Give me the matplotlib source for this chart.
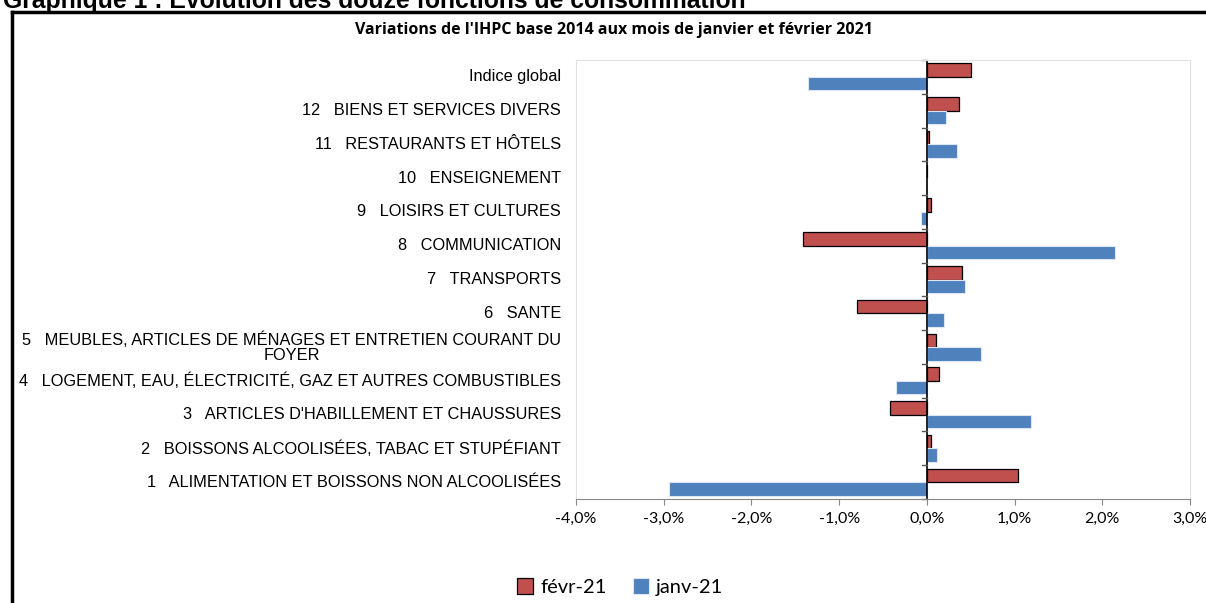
import matplotlib.pyplot as plt
import numpy as np
from matplotlib.ticker import FuncFormatter
from matplotlib.lines import Line2D

# Données (variations en %), de bas en haut
categories = [
    "1   ALIMENTATION ET BOISSONS NON ALCOOLISÉES",
    "2   BOISSONS ALCOOLISÉES, TABAC ET STUPÉFIANT",
    "3   ARTICLES D'HABILLEMENT ET CHAUSSURES",
    "4   LOGEMENT, EAU, ÉLECTRICITÉ, GAZ ET AUTRES COMBUSTIBLES",
    "5   MEUBLES, ARTICLES DE MÉNAGES ET ENTRETIEN COURANT DU\nFOYER",
    "6   SANTE",
    "7   TRANSPORTS",
    "8   COMMUNICATION",
    "9   LOISIRS ET CULTURES",
    "10   ENSEIGNEMENT",
    "11   RESTAURANTS ET HÔTELS",
    "12   BIENS ET SERVICES DIVERS",
    "Indice global",
]
fevr21 = [1.04, 0.05, -0.42, 0.14, 0.10, -0.80, 0.40, -1.41, 0.05, 0.00, 0.02, 0.37, 0.50]
janv21 = [-2.94, 0.11, 1.19, -0.35, 0.62, 0.19, 0.43, 2.14, -0.07, -0.01, 0.34, 0.22, -1.36]

col_fevr = "#C0504D"
col_janv = "#4F81BD"

fig = plt.figure(figsize=(12.06, 6.03), dpi=100)
ax = fig.add_axes([576 / 1206, 1 - 499 / 603, (1190 - 576) / 1206, (499 - 60) / 603])

y = np.arange(len(categories))
h = 0.4
ax.barh(y + h / 2, fevr21, height=h, color=col_fevr, edgecolor="black", linewidth=0.9, label="févr-21")
ax.barh(y - h / 2, janv21, height=h, color=col_janv, edgecolor="#dce6f2", linewidth=0.8, label="janv-21")

ax.set_xlim(-4, 3)
ax.set_ylim(-0.5, len(categories) - 0.5)
ax.set_xticks(np.arange(-4, 4, 1))
ax.xaxis.set_major_formatter(FuncFormatter(lambda v, p: f"{v:.1f}%".replace(".", ",")))
for lab in ax.get_xticklabels():
    lab.set_fontfamily("Lato")
    lab.set_fontsize(11.5)
ax.tick_params(axis="x", direction="out", length=4, color="#888888", pad=5)

# axe des catégories sur 0
ax.set_yticks([])
ax.axvline(0, color="black", linewidth=1.2)
for b in np.arange(-0.5, len(categories), 1):
    ax.plot([-0.05, 0], [b, b], color="#555555", linewidth=1, clip_on=False)

for i, c in enumerate(categories):
    ax.text(-4 - 15 / 87.75, i, c, ha="right", va="center", multialignment="center",
            fontsize=11.8, fontfamily="Liberation Sans", linespacing=1.0)

for s in ["top", "right", "left"]:
    ax.spines[s].set_color("#e0e0e0")
ax.spines["bottom"].set_color("#888888")

# titres
fig.text(614 / 1206, 1 - 30 / 603, "Variations de l'IHPC base 2014 aux mois de janvier et février 2021",
         ha="center", va="center", fontsize=11.5, fontweight="bold", fontfamily="Open Sans")
fig.text(3 / 1206, 1 + 1 / 603, "Graphique 1 : Évolution des douze fonctions de consommation",
         ha="left", va="center", fontsize=17.8, fontweight="bold", fontfamily="Liberation Sans")

# cadre
fig.add_artist(Line2D([12 / 1206, 12 / 1206], [0, 1 - 12 / 603], color="black", linewidth=2.5,
                      transform=fig.transFigure))
fig.add_artist(Line2D([12 / 1206, 1], [1 - 12 / 603, 1 - 12 / 603], color="black", linewidth=2.5,
                      transform=fig.transFigure))

fig.legend(loc="center", bbox_to_anchor=(620 / 1206, 1 - 587 / 603), ncol=2, frameon=False,
           prop={"family": "Lato", "size": 14.5}, handlelength=0.8, handleheight=0.8,
           columnspacing=1.3, handletextpad=0.35)

fig.savefig("out.png", dpi=100)
